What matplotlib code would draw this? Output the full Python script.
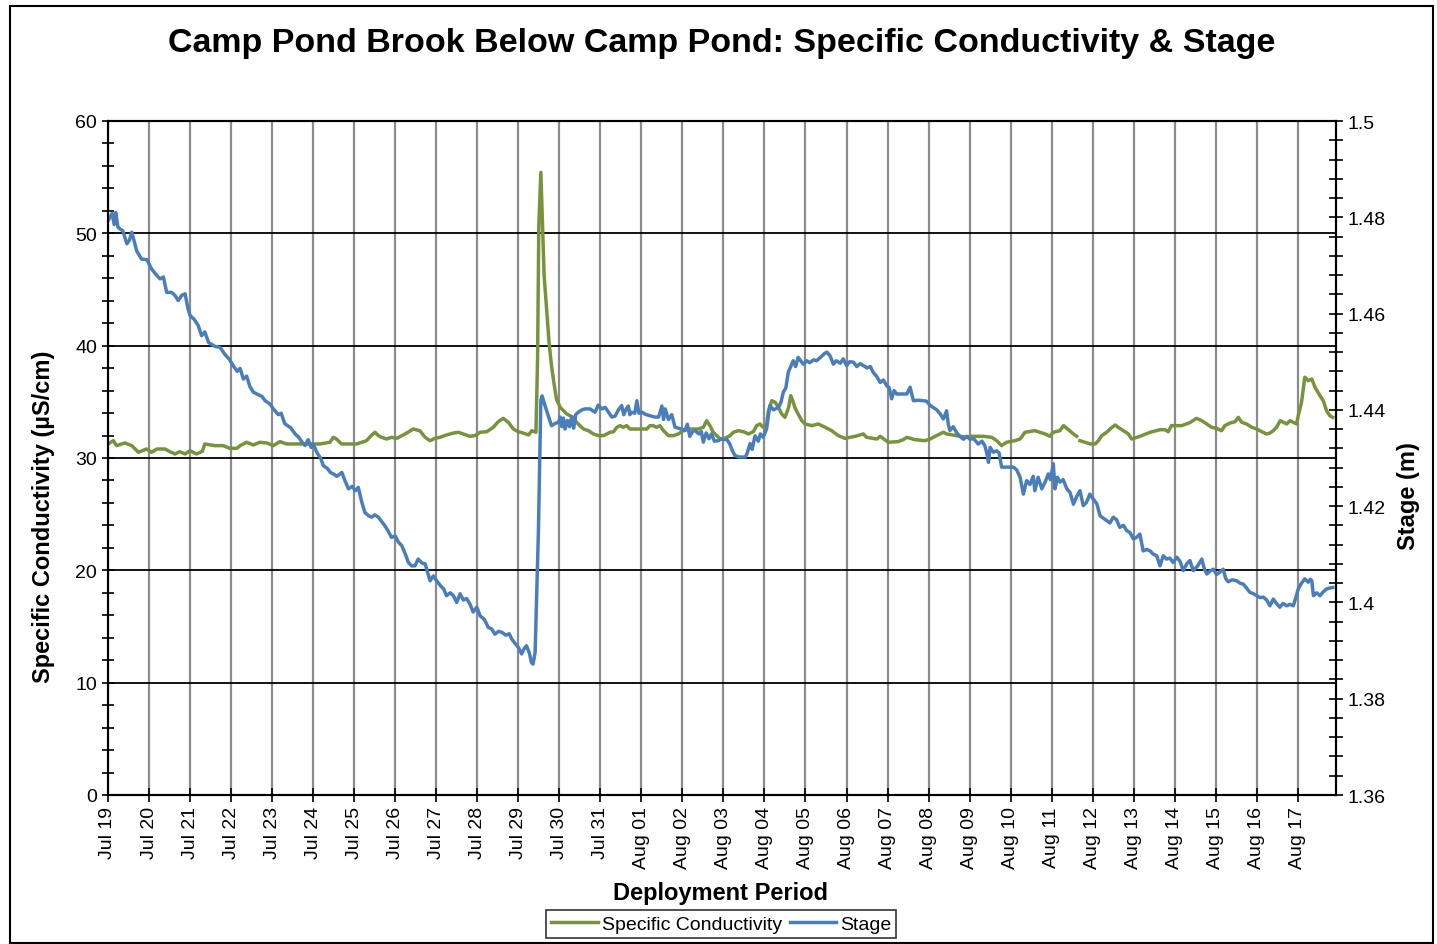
import numpy as np
import pandas as pd
import matplotlib
matplotlib.use("Agg")
import matplotlib.pyplot as plt
import matplotlib.dates as mdates
from matplotlib.ticker import MultipleLocator
from matplotlib.patches import Rectangle

plt.rcParams['font.family'] = ['Liberation Sans', 'DejaVu Sans']

start = pd.Timestamp("2019-07-19")

# stage (m), time in days after Jul 19 00:00
stage_days = [0.00, 0.10, 0.15, 0.19, 0.24, 0.29, 0.36, 0.46, 0.52, 0.58, 0.70, 0.82, 0.95, 1.06, 1.18, 1.27,
              1.35, 1.43, 1.55, 1.63, 1.71, 1.80, 1.88, 1.95, 2.00, 2.10, 2.20, 2.28, 2.36, 2.45, 2.60, 2.73,
              2.85, 2.95, 3.05, 3.15, 3.22, 3.30, 3.38, 3.46, 3.54, 3.65, 3.75, 3.83, 3.95, 4.03, 4.15, 4.22,
              4.31, 4.45, 4.56, 4.65, 4.72, 4.80, 4.88, 4.95, 5.00, 5.10, 5.18, 5.25, 5.35, 5.42, 5.49, 5.58,
              5.70, 5.78, 5.86, 5.95, 6.03, 6.10, 6.18, 6.26, 6.35, 6.43, 6.50, 6.59, 6.67, 6.75, 6.83, 6.91,
              7.00, 7.08, 7.16, 7.25, 7.32, 7.40, 7.48, 7.56, 7.65, 7.73, 7.80, 7.85, 7.93, 8.01, 8.10, 8.18,
              8.25, 8.34, 8.42, 8.50, 8.58, 8.66, 8.74, 8.82, 8.90, 8.99, 9.07, 9.17, 9.27, 9.35, 9.43, 9.52,
              9.60, 9.70, 9.78, 9.84, 9.92, 10.00, 10.08, 10.15, 10.20, 10.27, 10.32, 10.36, 10.41, 10.49, 10.55, 10.58,
              10.65, 10.73, 10.81, 10.90, 10.98, 11.02, 11.06, 11.10, 11.14, 11.20, 11.25, 11.30, 11.35, 11.40, 11.46, 11.55,
              11.63, 11.75, 11.87, 11.95, 12.03, 12.12, 12.20, 12.28, 12.36, 12.44, 12.52, 12.57, 12.62, 12.68, 12.72, 12.76,
              12.84, 12.89, 12.94, 13.02, 13.09, 13.20, 13.33, 13.42, 13.50, 13.54, 13.58, 13.66, 13.74, 13.82, 13.90, 13.98,
              14.06, 14.12, 14.18, 14.25, 14.31, 14.40, 14.46, 14.51, 14.58, 14.65, 14.71, 14.78, 14.88, 14.95, 15.00, 15.08,
              15.15, 15.22, 15.28, 15.38, 15.53, 15.57, 15.65, 15.70, 15.77, 15.85, 15.90, 15.97, 16.05, 16.13, 16.22, 16.34,
              16.40, 16.46, 16.52, 16.58, 16.64, 16.70, 16.76, 16.82, 16.90, 16.95, 17.03, 17.10, 17.20, 17.27, 17.35, 17.45,
              17.52, 17.60, 17.68, 17.75, 17.85, 17.92, 18.00, 18.08, 18.17, 18.25, 18.33, 18.41, 18.50, 18.58, 18.65, 18.73,
              18.82, 18.90, 18.98, 19.04, 19.10, 19.16, 19.22, 19.35, 19.47, 19.55, 19.63, 19.75, 19.87, 19.95, 20.03, 20.11,
              20.20, 20.28, 20.36, 20.44, 20.48, 20.52, 20.60, 20.68, 20.76, 20.85, 20.93, 21.01, 21.10, 21.21, 21.30, 21.37,
              21.42, 21.46, 21.50, 21.58, 21.66, 21.72, 21.78, 21.90, 22.07, 22.15, 22.23, 22.31, 22.39, 22.47, 22.55, 22.59,
              22.67, 22.76, 22.84, 22.92, 22.97, 23.04, 23.08, 23.14, 23.20, 23.28, 23.37, 23.45, 23.53, 23.61, 23.69, 23.77,
              23.85, 23.93, 24.01, 24.10, 24.18, 24.26, 24.34, 24.42, 24.50, 24.58, 24.66, 24.75, 24.83, 24.91, 24.99, 25.07,
              25.15, 25.23, 25.32, 25.40, 25.48, 25.56, 25.64, 25.72, 25.80, 25.88, 25.96, 26.05, 26.13, 26.21, 26.29, 26.37,
              26.45, 26.55, 26.66, 26.72, 26.78, 26.86, 26.94, 27.02, 27.10, 27.18, 27.24, 27.30, 27.40, 27.51, 27.59, 27.67,
              27.75, 27.83, 27.92, 28.00, 28.08, 28.16, 28.24, 28.32, 28.40, 28.48, 28.56, 28.64, 28.73, 28.81, 28.89, 28.95,
              29.01, 29.09, 29.17, 29.25, 29.30, 29.34, 29.38, 29.46, 29.54, 29.62, 29.70, 29.78, 29.85]
stage_m = [1.4793, 1.4808, 1.4785, 1.4810, 1.4780, 1.4776, 1.4772, 1.4745, 1.4752, 1.4769, 1.4730, 1.4713, 1.4712, 1.4693, 1.4680, 1.4672,
           1.4676, 1.4644, 1.4644, 1.4638, 1.4627, 1.4638, 1.4641, 1.4610, 1.4596, 1.4588, 1.4575, 1.4554, 1.4562, 1.4540, 1.4532, 1.4530,
           1.4515, 1.4506, 1.4492, 1.4480, 1.4486, 1.4464, 1.4470, 1.4448, 1.4437, 1.4432, 1.4428, 1.4419, 1.4412, 1.4402, 1.4390, 1.4393,
           1.4371, 1.4363, 1.4350, 1.4343, 1.4334, 1.4326, 1.4338, 1.4322, 1.4329, 1.4310, 1.4300, 1.4284, 1.4278, 1.4270, 1.4267, 1.4262,
           1.4270, 1.4252, 1.4236, 1.4241, 1.4232, 1.4239, 1.4210, 1.4187, 1.4180, 1.4177, 1.4182, 1.4177, 1.4168, 1.4159, 1.4148, 1.4135,
           1.4138, 1.4125, 1.4118, 1.4100, 1.4083, 1.4076, 1.4076, 1.4090, 1.4082, 1.4080, 1.4060, 1.4045, 1.4055, 1.4045, 1.4035, 1.4028,
           1.4014, 1.4020, 1.4014, 1.4000, 1.4018, 1.4005, 1.4008, 1.3997, 1.3980, 1.3990, 1.3972, 1.3965, 1.3948, 1.3945, 1.3934, 1.3940,
           1.3938, 1.3932, 1.3935, 1.3924, 1.3915, 1.3907, 1.3893, 1.3905, 1.3910, 1.3895, 1.3875, 1.3872, 1.3896, 1.4146, 1.4420, 1.4429,
           1.4409, 1.4388, 1.4367, 1.4372, 1.4374, 1.4385, 1.4365, 1.4383, 1.4360, 1.4378, 1.4365, 1.4385, 1.4362, 1.4390, 1.4395, 1.4400,
           1.4402, 1.4402, 1.4395, 1.4410, 1.4402, 1.4405, 1.4395, 1.4385, 1.4387, 1.4400, 1.4409, 1.4390, 1.4400, 1.4408, 1.4390, 1.4395,
           1.4393, 1.4419, 1.4393, 1.4395, 1.4391, 1.4388, 1.4385, 1.4385, 1.4408, 1.4380, 1.4402, 1.4380, 1.4390, 1.4364, 1.4362, 1.4360,
           1.4357, 1.4370, 1.4345, 1.4355, 1.4357, 1.4350, 1.4355, 1.4333, 1.4352, 1.4340, 1.4350, 1.4335, 1.4336, 1.4340, 1.4338, 1.4339,
           1.4330, 1.4315, 1.4305, 1.4302, 1.4302, 1.4308, 1.4330, 1.4318, 1.4346, 1.4335, 1.4350, 1.4343, 1.4360, 1.4409, 1.4400, 1.4405,
           1.4415, 1.4437, 1.4445, 1.4478, 1.4490, 1.4502, 1.4490, 1.4509, 1.4500, 1.4495, 1.4502, 1.4498, 1.4504, 1.4502, 1.4508, 1.4516,
           1.4520, 1.4512, 1.4495, 1.4502, 1.4497, 1.4506, 1.4492, 1.4500, 1.4499, 1.4490, 1.4496, 1.4492, 1.4487, 1.4490, 1.4478, 1.4470,
           1.4457, 1.4462, 1.4450, 1.4446, 1.4423, 1.4440, 1.4433, 1.4433, 1.4433, 1.4447, 1.4419, 1.4420, 1.4419, 1.4418, 1.4410, 1.4405,
           1.4400, 1.4392, 1.4381, 1.4398, 1.4370, 1.4357, 1.4365, 1.4353, 1.4345, 1.4339, 1.4345, 1.4339, 1.4340, 1.4329, 1.4335, 1.4326,
           1.4310, 1.4291, 1.4322, 1.4312, 1.4315, 1.4310, 1.4281, 1.4281, 1.4281, 1.4275, 1.4260, 1.4225, 1.4253, 1.4245, 1.4262, 1.4232,
           1.4260, 1.4236, 1.4250, 1.4267, 1.4255, 1.4288, 1.4236, 1.4260, 1.4250, 1.4255, 1.4236, 1.4228, 1.4204, 1.4220, 1.4232, 1.4201,
           1.4208, 1.4225, 1.4215, 1.4205, 1.4180, 1.4175, 1.4170, 1.4165, 1.4177, 1.4172, 1.4156, 1.4160, 1.4149, 1.4145, 1.4132, 1.4135,
           1.4142, 1.4107, 1.4110, 1.4107, 1.4100, 1.4097, 1.4076, 1.4097, 1.4090, 1.4092, 1.4083, 1.4094, 1.4085, 1.4066, 1.4080, 1.4087,
           1.4066, 1.4075, 1.4090, 1.4070, 1.4059, 1.4065, 1.4069, 1.4058, 1.4063, 1.4069, 1.4050, 1.4043, 1.4047, 1.4045, 1.4040, 1.4038,
           1.4030, 1.4021, 1.4018, 1.4014, 1.4010, 1.4011, 1.4005, 1.3993, 1.4007, 1.3998, 1.3990, 1.3998, 1.3993, 1.3996, 1.3993, 1.4010,
           1.4028, 1.4040, 1.4049, 1.4042, 1.4048, 1.4045, 1.4014, 1.4020, 1.4014, 1.4022, 1.4028, 1.4030, 1.4031]

# specific conductivity (uS/cm), nan = logger gap
cond_days = [0.00, 0.13, 0.21, 0.41, 0.58, 0.74, 0.94, 1.06, 1.19, 1.39, 1.51, 1.63, 1.75, 1.88, 2.00, 2.16,
             2.30, 2.36, 2.61, 2.81, 2.97, 3.14, 3.22, 3.38, 3.54, 3.70, 3.87, 4.03, 4.19, 4.35, 4.68, 5.00,
             5.17, 5.41, 5.49, 5.57, 5.69, 6.06, 6.18, 6.30, 6.43, 6.51, 6.59, 6.67, 6.79, 6.91, 7.04, 7.16,
             7.28, 7.44, 7.60, 7.73, 7.85, 7.97, 8.09, 8.25, 8.42, 8.54, 8.66, 8.82, 8.94, 9.07, 9.23, 9.39,
             9.51, 9.63, 9.76, 9.88, 10.00, 10.12, 10.25, 10.33, 10.43, 10.47, 10.50, 10.55, 10.59, 10.63, 10.69, 10.75,
             10.81, 10.88, 10.93, 11.02, 11.10, 11.18, 11.26, 11.34, 11.42, 11.50, 11.59, 11.71, 11.83, 11.95, 12.07, 12.16,
             12.24, 12.32, 12.40, 12.48, 12.56, 12.64, 12.72, 13.01, 13.13, 13.21, 13.29, 13.37, 13.45, 13.54, 13.66, 13.78,
             13.90, 14.02, 14.14, 14.39, 14.51, 14.59, 14.67, 14.75, 14.84, 14.92, 15.00, 15.08, 15.16, 15.24, 15.36, 15.49,
             15.61, 15.73, 15.81, 15.89, 15.97, 16.05, 16.09, 16.18, 16.26, 16.34, 16.42, 16.50, 16.59, 16.64, 16.69, 16.74,
             16.82, 16.91, 16.99, 17.15, 17.31, 17.48, 17.64, 17.80, 17.96, 18.21, 18.41, 18.49, 18.74, 18.82, 19.02, 19.26,
             19.38, 19.47, 19.67, 19.91, 20.04, 20.16, 20.28, 20.36, 20.44, 20.68, 20.93, 21.01, 21.33, 21.54, 21.66, 21.78,
             21.90, 22.10, 22.23, 22.35, 22.59, 22.84, 22.96, 23.04, 23.20, 23.29, 23.37, 23.53, 23.61, 23.65, 23.69, 23.81,
             23.94, 24.06, 24.14, 24.22, 24.34, 24.47, 24.55, 24.62, 24.75, 24.87, 24.95, 25.15, 25.40, 25.64, 25.76, 25.84,
             25.92, 26.17, 26.37, 26.53, 26.66, 26.78, 26.90, 27.02, 27.14, 27.22, 27.35, 27.47, 27.55, 27.63, 27.75, 27.88,
             28.00, 28.12, 28.24, 28.32, 28.40, 28.48, 28.57, 28.65, 28.73, 28.81, 28.89, 28.97, 29.01, 29.09, 29.17, 29.25,
             29.34, 29.42, 29.54, 29.62, 29.70, 29.78, 29.85]
cond_us = [31.25, 31.54, 31.10, 31.34, 31.10, 30.51, 30.80, 30.51, 30.80, 30.80, 30.56, 30.36, 30.56, 30.36, 30.65, 30.36,
           30.60, 31.25, 31.10, 31.10, 30.86, 30.86, 31.10, 31.40, 31.16, 31.40, 31.34, 31.10, 31.46, 31.25, 31.25, 31.25,
           31.25, 31.40, 31.84, 31.69, 31.25, 31.25, 31.40, 31.54, 32.05, 32.29, 31.99, 31.84, 31.69, 31.84, 31.75, 31.99,
           32.22, 32.58, 32.43, 31.84, 31.54, 31.75, 31.84, 32.05, 32.22, 32.29, 32.14, 31.93, 31.99, 32.29, 32.34, 32.73,
           33.23, 33.53, 33.17, 32.58, 32.34, 32.22, 32.05, 32.43, 32.29, 38.80, 50.70, 55.43, 50.70, 46.20, 43.30, 40.30,
           38.20, 36.40, 35.25, 34.51, 34.21, 33.92, 33.77, 33.62, 33.18, 32.88, 32.58, 32.43, 32.14, 31.99, 31.99, 32.14,
           32.29, 32.34, 32.73, 32.88, 32.73, 32.88, 32.58, 32.58, 32.58, 32.88, 32.88, 32.73, 32.88, 32.43, 31.99, 31.99,
           32.14, 32.43, 32.58, 32.58, 32.73, 33.32, 32.88, 32.29, 31.99, 31.69, 31.69, 31.84, 31.99, 32.29, 32.43, 32.34,
           32.14, 32.35, 32.88, 33.03, 32.73, 32.88, 34.07, 35.10, 34.96, 34.51, 33.92, 33.62, 34.51, 35.55, 35.10, 34.51,
           33.92, 33.32, 33.03, 32.88, 33.03, 32.73, 32.43, 31.99, 31.75, 31.93, 32.14, 31.84, 31.69, 31.93, 31.40, 31.46,
           31.63, 31.84, 31.63, 31.54, 31.69, 31.93, 32.14, 32.29, 32.14, 31.99, 31.84, 31.93, 31.93, 31.84, 31.54, 31.10,
           31.40, 31.54, 31.69, 32.29, 32.43, 32.14, 31.93, 32.29, 32.43, 32.88, 32.64, 32.14, 31.93, np.nan, 31.54, 31.40,
           31.25, 31.25, 31.54, 31.99, 32.29, 32.73, 32.94, 32.73, 32.43, 32.14, 31.69, 31.93, 32.29, 32.52, 32.52, 32.34,
           32.88, 32.88, 33.15, 33.53, 33.32, 33.03, 32.73, 32.64, 32.43, 32.88, 33.12, 33.23, 33.62, 33.18, 33.03, 32.73,
           32.58, 32.34, 32.14, 32.22, 32.43, 32.73, 33.32, 33.18, 33.03, 33.32, 33.18, 33.03, 33.77, 34.96, 37.19, 36.88,
           37.03, 36.29, 35.55, 35.10, 34.21, 33.77, 33.62]

stage_t = start + pd.to_timedelta(stage_days, unit="D")
cond_t = start + pd.to_timedelta(cond_days, unit="D")

green = "#77933C"
blue = "#4A7EBB"

fig = plt.figure(figsize=(14.37, 9.45), dpi=100)
ax1 = fig.add_axes([108 / 1437, 1 - 796 / 945, 1228 / 1437, 674 / 945])
ax2 = ax1.twinx()

l1, = ax1.plot(cond_t, cond_us, color=green, lw=2.5, label="Specific Conductivity")
l2, = ax2.plot(stage_t, stage_m, color=blue, lw=2.5, label="Stage")

ax1.set_xlim(start, start + pd.Timedelta(days=29.93))
ax1.set_ylim(0, 60)
ax2.set_ylim(1.36, 1.5)

ax1.xaxis.set_major_locator(mdates.DayLocator())
ax1.xaxis.set_major_formatter(mdates.DateFormatter("%b %d"))
ax1.yaxis.set_major_locator(MultipleLocator(10))
ax1.yaxis.set_minor_locator(MultipleLocator(2))
ax2.yaxis.set_major_locator(MultipleLocator(0.02))
ax2.yaxis.set_minor_locator(MultipleLocator(0.004))
ax2.yaxis.set_major_formatter(plt.FuncFormatter(lambda v, p: f"{v:g}"))

ax1.set_axisbelow(True)
ax1.grid(axis="x", color="#8c8c8c", lw=1.6)
ax1.grid(axis="y", which="major", color="black", lw=1.3)

ax1.tick_params(axis="x", direction="inout", length=10, width=1.2, labelsize=14, rotation=90, pad=3)
ax1.tick_params(axis="y", which="both", direction="inout", length=9, width=1.2, labelsize=14)
ax2.tick_params(axis="y", which="both", direction="inout", length=10, width=1.2, labelsize=14)
for a in (ax1, ax2):
    for s in a.spines.values():
        s.set_linewidth(1.5)

ax1.set_ylabel("Specific Conductivity (µS/cm)", fontsize=17, fontweight="bold")
ax1.yaxis.set_label_coords(-0.043, 0.414)
ax2.set_ylabel("Stage (m)", fontsize=17, fontweight="bold")
ax2.yaxis.set_label_coords(1.05, 0.445)
ax1.set_xlabel("Deployment Period", fontsize=17, fontweight="bold")
ax1.xaxis.set_label_coords(0.499, -0.128)

fig.suptitle("Camp Pond Brook Below Camp Pond: Specific Conductivity & Stage",
             x=0.502, y=0.954, va="center", fontsize=24.5, fontweight="bold")

leg = fig.legend(handles=[l1, l2], loc="center", bbox_to_anchor=(0.502, 0.021), ncol=2,
                 fontsize=14, frameon=True, fancybox=False, edgecolor="black",
                 handlelength=2.4, handletextpad=0.2, columnspacing=0.4, borderpad=0.25)
leg.get_frame().set_linewidth(1.2)

fig.patches.append(Rectangle((10 / 1437, 0.001), 1423 / 1437, 1 - 7 / 945 - 0.001,
                             transform=fig.transFigure, fill=False, edgecolor="black", lw=1.5))

fig.savefig("out.png", dpi=100)
